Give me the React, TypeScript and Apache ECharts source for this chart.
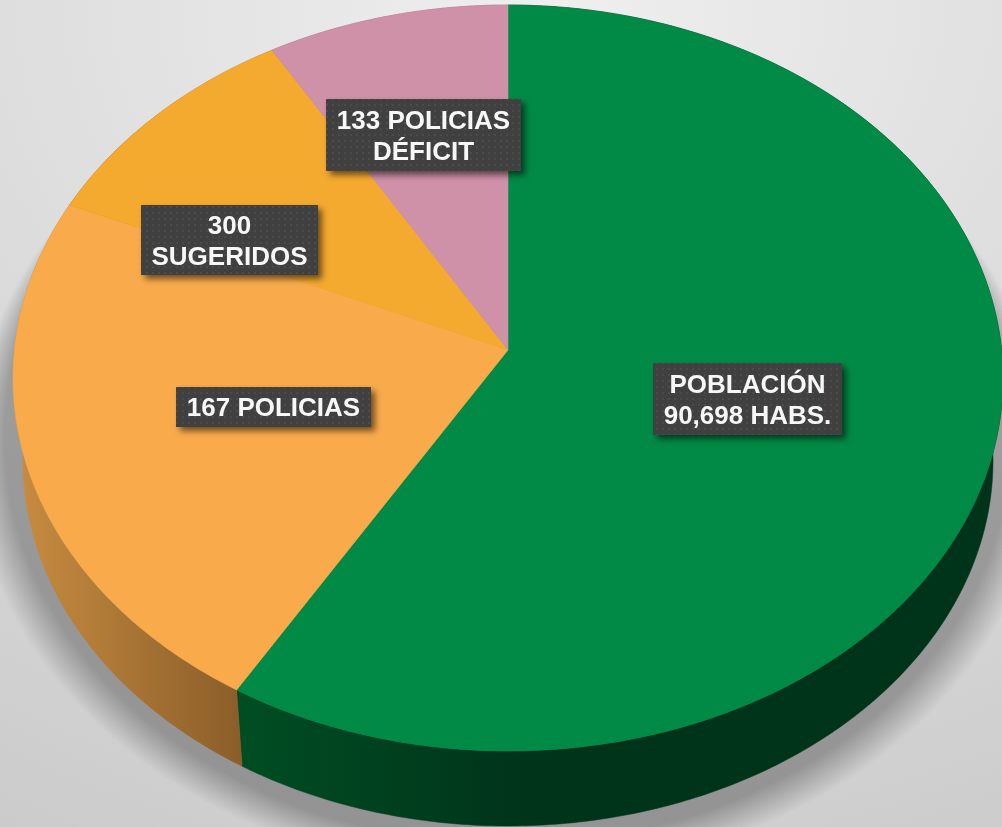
import React, { useEffect, useRef } from "react";
import * as echarts from "echarts";

const SLICE_NAMES = ["Población", "Policías", "Sugeridos", "Déficit"];
const SLICE_VALUES = [58.6, 23.0, 9.9, 8.5];
const LABEL_TEXTS = ["POBLACIÓN\n90,698 HABS.", "167 POLICIAS", "300\nSUGERIDOS", "133 POLICIAS\nDÉFICIT"];

const FACE_COLORS = ["#008a45", "#f9aa4b", "#f4a92f", "#cf91a8"];
const WALL_STOPS = [["#004d23", "#00341a"], ["#c98d41", "#8a5d29"], ["#a87a25", "#a87a25"], ["#8f6474", "#8f6474"]];
const WALL_SPANS = [[243, 520], [13, 243], [13, 272], [272, 508]];
const LABEL_BOXES = [
  [653, 363, 189, 72],
  [176, 387, 195, 40],
  [141, 205, 177, 70],
  [326, 99, 195, 72],
];

const TOP = { cx: 508, cy: 378, rx: 495, ry: 373 };
const BOTTOM = { cx: 508, cy: 461, rx: 485, ry: 365 };
const APEX_SHIFT = -28 / 373;
const HALO_LAYERS = 30;

const total = SLICE_VALUES.reduce((a, b) => a + b, 0);

function unit(theta: number) {
  const x = Math.sin(theta);
  const y = -Math.cos(theta);
  const d = 1 + APEX_SHIFT * y;
  return [(x * Math.sqrt(1 - APEX_SHIFT * APEX_SHIFT)) / d, (y + APEX_SHIFT) / d];
}
function onEllipse(e: typeof TOP, theta: number) {
  const [u, v] = unit(theta);
  return [e.cx + e.rx * u, e.cy + e.ry * v];
}
function arc(e: typeof TOP, a0: number, a1: number) {
  const n = Math.max(8, Math.ceil(Math.abs(a1 - a0) * 90));
  const pts: number[][] = [];
  for (let i = 0; i <= n; i++) pts.push(onEllipse(e, a0 + ((a1 - a0) * i) / n));
  return pts;
}
function sliceAngles(index: number, value: number) {
  let before = 0;
  for (let i = 0; i < index; i++) before += SLICE_VALUES[i];
  return [(before / total) * Math.PI * 2, ((before + value) / total) * Math.PI * 2];
}
function dotPattern() {
  const c = document.createElement("canvas");
  c.width = 6;
  c.height = 6;
  const g = c.getContext("2d")!;
  g.fillStyle = "#404040";
  g.fillRect(0, 0, 6, 6);
  g.fillStyle = "#4b4b4b";
  g.fillRect(2, 2, 2, 2);
  return c;
}

export default function App() {
  const ref = useRef<HTMLDivElement>(null);
  useEffect(() => {
    const chart = echarts.init(ref.current!, undefined, { renderer: "svg" });
    const pattern = { image: dotPattern(), repeat: "repeat" };
    const labelGraphics: any[] = [];
    LABEL_TEXTS.forEach((text, i) => {
      const [x, y, w, h] = LABEL_BOXES[i];
      labelGraphics.push(
        {
          type: "rect", z: 100, shape: { x, y, width: w, height: h },
          style: { fill: "#404040", shadowBlur: 6, shadowOffsetX: 4, shadowOffsetY: 4, shadowColor: "rgba(0,0,0,0.55)" },
        },
        { type: "rect", z: 101, shape: { x, y, width: w, height: h }, style: { fill: pattern } },
        {
          type: "text", z: 102, x: x + w / 2, y: y + h / 2,
          style: {
            text, fill: "#f7f7f7", font: 'bold 26px "Liberation Sans", Arial, sans-serif',
            align: "center", verticalAlign: "middle", lineHeight: 31,
          },
        }
      );
    });
    const halo: any[] = [];
    for (let i = 0; i < HALO_LAYERS; i++) {
      const e = 46 - (32 * i) / (HALO_LAYERS - 1);
      halo.push({
        type: "ellipse", z: 0, silent: true,
        shape: { cx: 508, cy: 430 + e * 0.5, rx: 490 + e, ry: 400 + e * 0.5 },
        style: { fill: "rgba(0,0,0,0.0085)" },
      });
    }
    chart.setOption({
      animation: false,
      backgroundColor: {
        type: "radial", x: 0.55, y: 0, r: 1.2,
        colorStops: [
          { offset: 0, color: "#efefef" },
          { offset: 0.5, color: "#dcdcdc" },
          { offset: 1, color: "#c9c9c9" },
        ],
      },
      graphic: [...halo, ...labelGraphics],
      series: [
        {
          type: "custom", coordinateSystem: "none", z: 2, silent: true,
          data: SLICE_VALUES.map((value, i) => ({ name: SLICE_NAMES[i], value })),
          renderItem: (p: any, api: any) => {
            const [a0, a1] = sliceAngles(p.dataIndex, api.value(0));
            const points = [...arc(TOP, a0, a1), ...arc(BOTTOM, a1, a0)];
            const [xa, xb] = WALL_SPANS[p.dataIndex];
            const [c0, c1] = WALL_STOPS[p.dataIndex];
            const fill = new echarts.graphic.LinearGradient(xa, 0, xb, 0, [
              { offset: 0, color: c0 }, { offset: 1, color: c1 },
            ], true);
            return { type: "polygon", shape: { points }, style: { fill, stroke: fill, lineWidth: 0.5 } };
          },
        },
        {
          type: "custom", coordinateSystem: "none", z: 3, silent: true,
          data: SLICE_VALUES.map((value, i) => ({ name: SLICE_NAMES[i], value })),
          renderItem: (p: any, api: any) => {
            const [a0, a1] = sliceAngles(p.dataIndex, api.value(0));
            const points = [[TOP.cx, TOP.cy + TOP.ry * APEX_SHIFT], ...arc(TOP, a0, a1)];
            const fill = FACE_COLORS[p.dataIndex];
            return { type: "polygon", shape: { points }, style: { fill, stroke: fill, lineWidth: 0.5 } };
          },
        },
      ],
    });
    return () => chart.dispose();
  }, []);
  return <div ref={ref} style={{ position: "fixed", left: 0, top: 0, width: 1002, height: 827 }} />;
}
